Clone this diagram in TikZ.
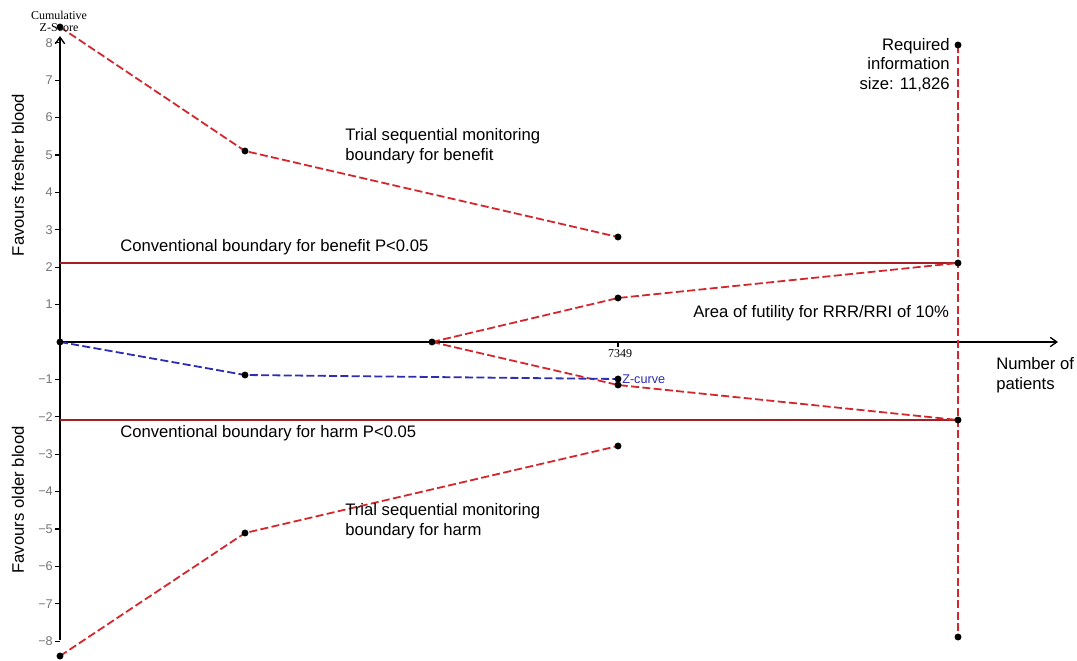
\documentclass[tikz,border=0pt]{standalone}
\usepackage{fontspec}
\setmainfont{Liberation Sans}
\newfontfamily\timesf{Liberation Serif}
\usetikzlibrary{arrows.meta}
\definecolor{bred}{RGB}{210,40,45}
\definecolor{dred}{RGB}{165,30,35}
\definecolor{zblue}{RGB}{45,45,175}
\definecolor{tickgray}{RGB}{115,115,115}
\begin{document}
\begin{tikzpicture}[x=0.75pt,y=-0.75pt,
  dot/.style={circle,fill=black,inner sep=0pt,minimum size=5.2pt},
  rdash/.style={bred,line width=1.35pt,dash pattern=on 6pt off 2.5pt},
  bdash/.style={zblue,line width=1.35pt,dash pattern=on 6pt off 2.5pt},
  conv/.style={dred,line width=1.2pt},
  axis/.style={black,line width=1pt,-{Straight Barb[length=5pt,width=7pt]}},
  lbl/.style={font=\fontsize{12.5pt}{14.6pt}\selectfont,inner sep=0pt},
  ticklbl/.style={font=\fontsize{9.5pt}{11pt}\selectfont,text=tickgray,inner sep=0pt,anchor=east}]
\useasboundingbox (0,0) rectangle (1077,660);
% axes
\coordinate (ybot) at (60,640);
\coordinate (ytop) at (60,36);
\coordinate (O) at (60,342);
\coordinate (xend) at (1058,342);
\draw[axis] (ybot) -- (ytop);
\draw[axis] (O) -- (xend);
% y ticks
\foreach \v in {1,...,8}{
  \draw[line width=0.8pt] (55,342-37.4*\v) -- (60,342-37.4*\v);
  \node[ticklbl] at (53,342-37.4*\v) {\v};
  \draw[line width=0.8pt] (55,342+37.4*\v) -- (60,342+37.4*\v);
  \node[ticklbl] at (53,342+37.4*\v) {\textminus\v};
}
% x tick
\coordinate (t7349) at (618,342);
\draw[line width=0.8pt] (t7349) -- ++(0,5);
\node[font=\timesf\fontsize{9pt}{10pt}\selectfont,inner sep=0pt] (l7349) at (620,354) {7349};
% points
\coordinate (b0) at (60,27);
\coordinate (b1) at (245,151);
\coordinate (b2) at (618,237);
\coordinate (h0) at (60,656);
\coordinate (h1) at (245,533);
\coordinate (h2) at (618,446);
\coordinate (f0) at (432,342);
\coordinate (fu1) at (618,298);
\coordinate (fl1) at (618,385);
\coordinate (r8) at (958,45);
\coordinate (ru) at (958,263);
\coordinate (rl) at (958,420);
\coordinate (rm8) at (958,637);
\coordinate (z0) at (60,342);
\coordinate (z1) at (245,375);
\coordinate (z2) at (618,379);
% conventional boundaries
\coordinate (cu0) at (60,263);
\coordinate (cl0) at (60,420);
\draw[conv] (cu0) -- (ru);
\draw[conv] (cl0) -- (rl);
% monitoring boundaries
\draw[rdash] (b0) -- (b1) -- (b2);
\draw[rdash] (h0) -- (h1) -- (h2);
% futility
\draw[rdash] (f0) -- (fu1) -- (ru);
\draw[rdash] (f0) -- (fl1) -- (rl);
% required information size
\draw[rdash] (r8) -- (rm8);
% z-curve
\draw[bdash] (z0) -- (z1) -- (z2);
% dots
\foreach \p in {b0,b1,b2,h0,h1,h2,f0,fu1,fl1,r8,ru,rl,rm8,z0,z1,z2}{
  \node[dot] (d\p) at (\p) {};
}
% labels
\node[font=\timesf\fontsize{9pt}{9pt}\selectfont,align=center,inner sep=0pt] (cz) at (59,21) {Cumulative\\Z-Score};
\node[lbl,rotate=90] (fav1) at (18,175) {Favours fresher blood};
\node[lbl,rotate=90] (fav2) at (18,500) {Favours older blood};
\node[lbl,anchor=west,align=left] (tsmb) at (345,146) {Trial sequential monitoring\\boundary for benefit};
\node[lbl,anchor=west,align=left] (tsmh) at (345,521) {Trial sequential monitoring\\boundary for harm};
\node[lbl,anchor=west] (cbb) at (120,247) {Conventional boundary for benefit P<0.05};
\node[lbl,anchor=west] (cbh) at (120,433) {Conventional boundary for harm P<0.05};
\node[lbl,anchor=west] (fut) at (693,313) {Area of futility for RRR/RRI of 10\%};
\node[lbl,anchor=east,align=right] (ris) at (950,65) {Required\\information\\size: 11,826};
\node[lbl,anchor=west,align=left] (nop) at (996,375) {Number of\\patients};
\node[font=\fontsize{9.5pt}{10pt}\selectfont,text=zblue,anchor=west,inner sep=0pt] (zc) at (622,379) {Z-curve};
\end{tikzpicture}
\end{document}
